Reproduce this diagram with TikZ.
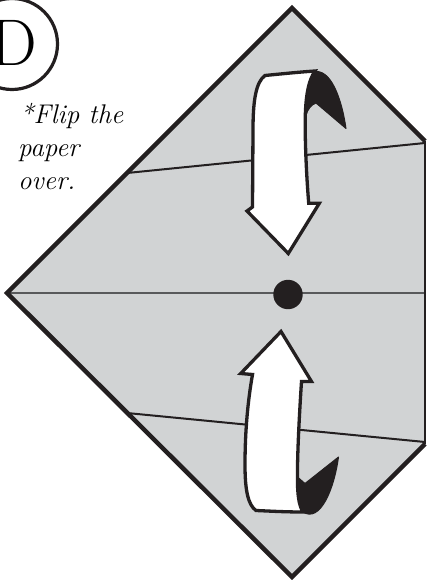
\documentclass[tikz,border=0pt]{standalone}
\usetikzlibrary{calc}
\definecolor{paper}{HTML}{D1D3D4}
\definecolor{ink}{HTML}{231F20}
\definecolor{midline}{HTML}{58595B}
\tikzset{
  outline/.style={draw=ink, line width=4.5pt, line join=miter},
  crease/.style={draw=ink, line width=2pt},
  ribbon/.style={draw=ink, fill=white, line width=3.3pt, line join=miter, miter limit=10},
  ribbonback/.style={draw=ink, fill=ink, line width=1pt, line join=round},
  note/.style={font=\fontsize{27}{32.5}\selectfont\itshape, inner sep=0pt, anchor=base west}
}
\begin{document}
\begin{tikzpicture}[x=1pt, y=-1pt]
\useasboundingbox (0,0) rectangle (426,580);
% paper
\coordinate (T) at (292,8);
\coordinate (L) at (7,293);
\coordinate (B) at (292,577);
\coordinate (RT) at (425,141);
\coordinate (RB) at (425,444);
\fill[paper] (RT) -- (T) -- (L) -- (B) -- (RB) -- cycle;
% creases
\coordinate (c1a) at (127,173);
\coordinate (c1b) at (425,143);
\coordinate (c2a) at (127,413);
\coordinate (c2b) at (425,442);
\draw[crease] (c1a) -- (c1b);
\draw[crease] (c2a) -- (c2b);
\coordinate (mR) at (425,293);
\draw[midline, line width=1.6pt] (L) -- (mR);
\draw[outline] (RT) -- (T) -- (L) -- (B) -- (RB);
\draw[ink, line width=1.5pt] (RT) -- (RB);
% dot
\fill[ink] (288,294.5) circle (14.7);
% upper arrow
\path[ribbonback] (313,72) .. controls (331,67) and (342,100) .. (346,128.5)
  -- (316,103) .. controls (311,105) and (308,109) .. (306,115)
  -- (306.5,95) .. controls (307.5,85) and (310,77) .. (313,72) -- cycle;
\path[ribbon] (265,75.5) .. controls (256,82) and (253,100) .. (253,130)
  -- (252.5,207) -- (247,211) -- (288.3,253.5) -- (319.3,203.3) -- (308.7,203.3)
  .. controls (306,170) and (304.5,130) .. (305.5,110)
  .. controls (306.5,92) and (309,80) .. (315,71)
  .. controls (300,72) and (280,74) .. (265,75.5) -- cycle;
% lower arrow
\path[ribbonback] (303,512) .. controls (320,523) and (334,490) .. (338.5,457)
  -- (305,483.5) -- (297.5,477) -- (298,500)
  .. controls (299,506) and (301,510) .. (303,512) -- cycle;
\path[ribbon] (281,331.5) -- (311.5,381.5) -- (301.5,381.5)
  .. controls (299,420) and (297,460) .. (297.5,485)
  .. controls (298,500) and (300,507) .. (303,512)
  .. controls (285,512) and (268,511) .. (256,510.5)
  .. controls (248,505) and (245,490) .. (245,465)
  .. controls (245,430) and (248,400) .. (252.5,374.5)
  -- (240.7,373.5) -- cycle;
% step label
\draw[ink, line width=3.2pt] (12,44) circle (45.5);
\node[inner sep=0pt, font=\fontsize{66}{66}\selectfont] (D) at (14,43) {D};
% note
\node[note] (n1) at (20,124) {*Flip the};
\node[note] (n2) at (18,156.7) {paper};
\node[note] (n3) at (18,189) {over.};
\end{tikzpicture}
\end{document}
